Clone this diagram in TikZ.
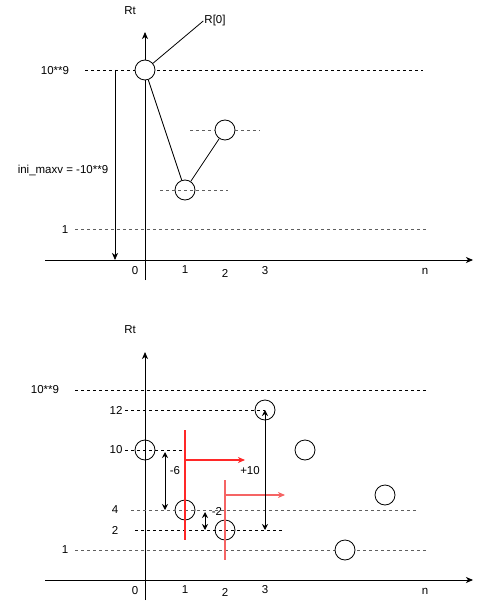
\documentclass[tikz,border=0pt]{standalone}
\usepackage{fontspec}
\setmainfont{Liberation Sans}
\usetikzlibrary{arrows.meta}
\definecolor{rtred}{RGB}{255,40,40}
\definecolor{rtpink}{RGB}{245,100,100}
\definecolor{rtgray}{RGB}{95,95,95}
\tikzset{
  tip/.style={-{Stealth[length=7pt,width=6pt,inset=2pt]}},
  axis/.style={tip, line width=0.9pt},
  guide/.style={dash pattern=on 3pt off 3pt, line width=0.8pt},
  greyguide/.style={guide, rtgray},
  state/.style={draw, circle, minimum size=20pt, inner sep=0pt, line width=0.8pt},
  lbl/.style={font=\fontsize{11.5}{13}\selectfont, inner sep=1pt},
  diff/.style={{Stealth[length=6pt,width=6pt,inset=2pt]}-{Stealth[length=6pt,width=6pt,inset=2pt]}, line width=0.9pt},
  jump/.style={tip, line width=1.1pt},
  cut/.style={line width=1.1pt}
}
\begin{document}
\begin{tikzpicture}[x=1pt, y=-1pt]
  \useasboundingbox (0,0) rectangle (484,609);
  % upper plot
  \coordinate (tyb) at (145,280);
  \coordinate (tyt) at (145,32);
  \coordinate (txl) at (45,260);
  \coordinate (txr) at (473,260);
  \draw[axis] (tyb) -- (tyt);
  \draw[axis] (txl) -- (txr);
  \node[lbl] (trt) at (130,11) {Rt};
  \draw[guide] (85,70) -- (423,70);
  \draw[greyguide] (75,229) -- (426,229);
  \node[state, fill=white] (top0) at (145,70) {};
  \node[state, fill=white] (top1) at (185,190) {};
  \node[state, fill=white] (top2) at (225,130) {};
  \draw[greyguide] (190,130) -- (top2.west) (top2.east) -- (260,130);
  \draw[greyguide] (160,190) -- (228,190);
  \draw[line width=0.8pt] (top0) -- (top1);
  \draw[line width=0.8pt] (top1) -- (top2);
  \node[lbl] (r0) at (215,21) {R[0]};
  \draw[line width=0.8pt] (top0) -- (r0.west);
  \node[lbl] (tbig) at (55,71) {10**9};
  \node[lbl] (tini) at (63,170) {ini\_maxv = -10**9};
  \node[lbl] (tone) at (65,230) {1};
  \coordinate (inis) at (115,70);
  \coordinate (inie) at (115,260);
  \draw[tip, line width=0.8pt] (inis) -- (inie);
  \foreach \t/\x/\y in {0/135/271, 1/185/270, 2/225/273, 3/265/271, n/425/271}
    \node[lbl] (tx\t) at (\x,\y) {\t};

  % lower plot
  \coordinate (byb) at (145,600);
  \coordinate (byt) at (145,352);
  \coordinate (bxl) at (45,580);
  \coordinate (bxr) at (473,580);
  \draw[axis] (byb) -- (byt);
  \draw[axis] (bxl) -- (bxr);
  \node[lbl] (brt) at (130,330) {Rt};
  \draw[guide] (75,390) -- (426,390);
  \draw[greyguide] (75,550) -- (426,550);
  \node[state] (bot0) at (145,450) {};
  \node[state] (bot1) at (185,510) {};
  \node[state] (bot2) at (225,530) {};
  \node[state] (bot3) at (265,410) {};
  \node[state] (bot4) at (305,450) {};
  \node[state, fill=white] (bot5) at (345,550) {};
  \node[state] (bot6) at (385,495) {};
  \draw[guide] (125,410) -- (bot3.center);
  \draw[guide] (125,450) -- (182,450);
  \draw[greyguide] (131,510) -- (416,510);
  \draw[guide] (135,530) -- (283,530);
  \node[lbl] (bbig) at (45,390) {10**9};
  \node[lbl] (b12) at (116,410) {12};
  \node[lbl] (b10) at (116,450) {10};
  \node[lbl] (b4) at (115,510) {4};
  \node[lbl] (b2) at (115,530) {2};
  \node[lbl] (bone) at (65,550) {1};
  % shifts
  \draw[cut, rtred] (185,430) -- (185,540);
  \coordinate (shift1) at (185,460);
  \coordinate (shift1e) at (245,460);
  \draw[jump, rtred] (shift1) -- (shift1e);
  \draw[cut, rtpink] (225,480) -- (225,560);
  \coordinate (shift2) at (225,495);
  \coordinate (shift2e) at (285,495);
  \draw[jump, rtpink] (shift2) -- (shift2e);
  % differences
  \draw[diff] (165,452) -- (165,510);
  \node[lbl] (dsix) at (175,471) {-6};
  \draw[diff] (205,512) -- (205,530);
  \node[lbl] (dtwo) at (217,511) {-2};
  \draw[diff] (bot3.center) -- (265,530);
  \node[lbl] (dten) at (250,471) {+10};
  \foreach \t/\x/\y in {0/135/591, 1/185/590, 2/225/592, 3/265/590, n/425/591}
    \node[lbl] (bx\t) at (\x,\y) {\t};
\end{tikzpicture}
\end{document}
